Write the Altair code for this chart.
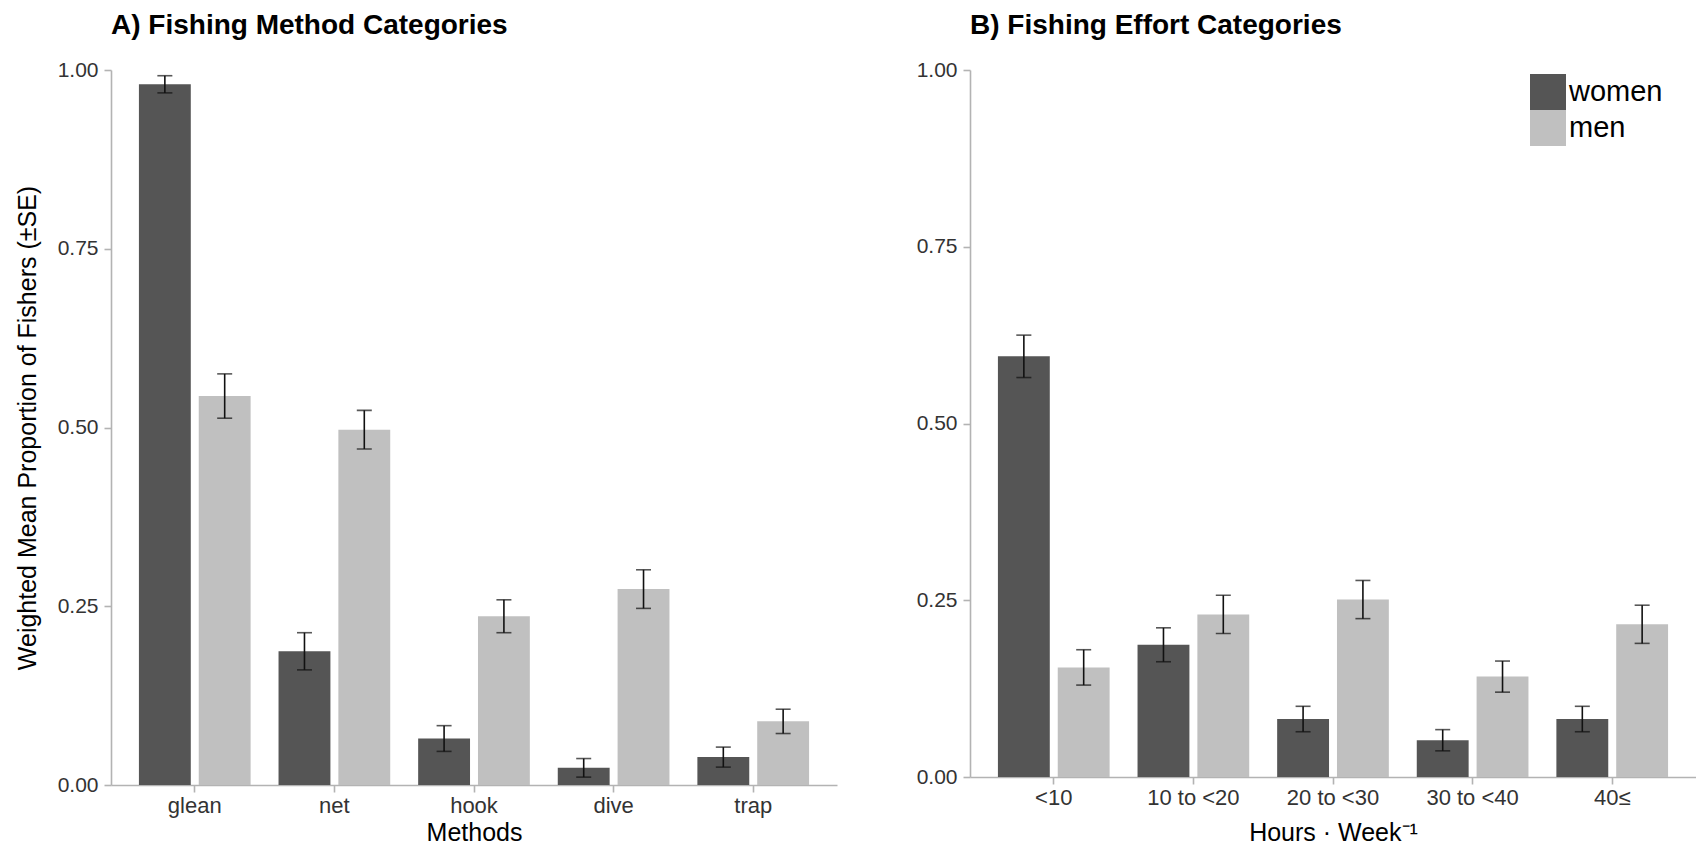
import altair as alt
import pandas as pd

# ---- data ----
sexes = ["women", "men"]
fill_colors = ["#555555", "#c0c0c0"]

methods = ["glean", "net", "hook", "dive", "trap"]
method_women = [0.980, 0.187, 0.065, 0.024, 0.039]
method_women_se = [0.012, 0.026, 0.018, 0.013, 0.014]
method_men = [0.544, 0.497, 0.236, 0.274, 0.089]
method_men_se = [0.031, 0.027, 0.023, 0.027, 0.017]

efforts = ["<10", "10 to <20", "20 to <30", "30 to <40", "40≤"]
effort_women = [0.595, 0.187, 0.082, 0.052, 0.082]
effort_women_se = [0.030, 0.024, 0.018, 0.015, 0.018]
effort_men = [0.155, 0.230, 0.251, 0.142, 0.216]
effort_men_se = [0.025, 0.027, 0.027, 0.022, 0.027]

y_ticks = [0, 0.25, 0.5, 0.75, 1.0]

FONT = "Liberation Sans"


def make_df(cats, w, wse, m, mse):
    rows = []
    for i, c in enumerate(cats):
        rows.append(dict(cat=c, sex="women", val=w[i], lo=w[i] - wse[i], hi=w[i] + wse[i]))
        rows.append(dict(cat=c, sex="men", val=m[i], lo=m[i] - mse[i], hi=m[i] + mse[i]))
    return pd.DataFrame(rows)


def panel(df, cats, title, xtitle, ytitle, height, x_title_pad, legend):
    x = alt.X(
        "cat:N",
        sort=cats,
        title=xtitle,
        scale=alt.Scale(paddingInner=0.2, paddingOuter=0.2),
        axis=alt.Axis(labelAngle=0, labelPadding=3, labelFontSize=22, titlePadding=x_title_pad),
    )
    xo = alt.XOffset("sex:N", sort=sexes, scale=alt.Scale(paddingInner=0.133, paddingOuter=0))
    yaxis = alt.Axis(values=y_ticks, format=".2f", labelPadding=6, labelFontSize=21, titlePadding=17)
    if ytitle is None:
        y = alt.Y("val:Q", title=None, scale=alt.Scale(domain=[0, 1], nice=False), axis=yaxis)
    else:
        y = alt.Y("val:Q", title=ytitle, scale=alt.Scale(domain=[0, 1], nice=False), axis=yaxis)
    color = alt.Color(
        "sex:N",
        sort=sexes,
        scale=alt.Scale(domain=sexes, range=fill_colors),
        legend=legend,
    )
    base = alt.Chart(df)
    bars = base.mark_bar().encode(x=x, xOffset=xo, y=y, color=color)
    rules = base.mark_rule(color="#111111", strokeWidth=1.6).encode(
        x=x, xOffset=xo, y="lo:Q", y2="hi:Q"
    )
    cap_lo = base.mark_tick(color="#111111", size=15, thickness=1.6).encode(x=x, xOffset=xo, y="lo:Q")
    cap_hi = base.mark_tick(color="#111111", size=15, thickness=1.6).encode(x=x, xOffset=xo, y="hi:Q")
    return alt.layer(bars, rules, cap_lo, cap_hi).properties(
        width=726,
        height=height,
        title=alt.TitleParams(title, anchor="start", frame="group", offset=19),
    )


df_a = make_df(methods, method_women, method_women_se, method_men, method_men_se)
df_b = make_df(efforts, effort_women, effort_women_se, effort_men, effort_men_se)

panel_a = panel(
    df_a, methods, "A) Fishing Method Categories", "Methods",
    "Weighted Mean Proportion of Fishers (±SE)", 715, 4, None,
)
panel_b = panel(
    df_b, efforts, "B) Fishing Effort Categories", "Hours · Week⁻¹",
    None, 707, 12,
    alt.Legend(title=None, orient="none", legendX=560, legendY=4),
)

chart = (
    alt.hconcat(panel_a, panel_b, spacing=79)
    .resolve_legend(color="independent")
    .properties(padding={"left": 7, "top": 4, "right": 0, "bottom": 0})
    .configure_view(stroke=None)
    .configure_axis(
        labelFont=FONT,
        labelColor="#333333",
        titleFont=FONT,
        titleFontSize=25,
        titleFontWeight="normal",
        titleColor="#000000",
        domainColor="#b3b3b3",
        domainWidth=1.6,
        tickColor="#b3b3b3",
        tickWidth=1.6,
        tickSize=7,
        grid=False,
    )
    .configure_title(font=FONT, fontSize=28, fontWeight="bold", color="#000000")
    .configure_legend(
        labelFont=FONT,
        labelFontSize=29,
        labelColor="#000000",
        labelOffset=3,
        symbolType="square",
        symbolSize=1296,
        symbolStrokeWidth=0,
        rowPadding=0,
        padding=0,
    )
)

chart.save("out.html", embed_options={"renderer": "svg", "actions": False})
